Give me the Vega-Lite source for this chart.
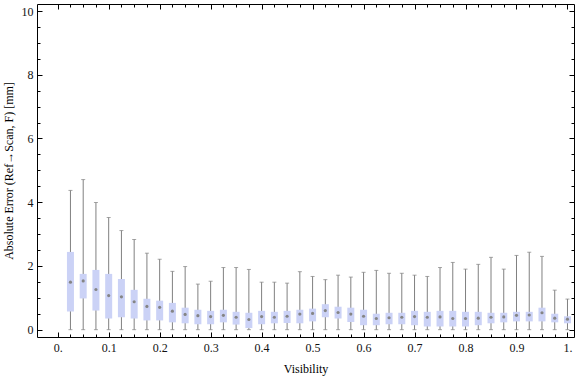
{
  "$schema": "https://vega.github.io/schema/vega-lite/v6.json",
  "width": 537,
  "height": 333,
  "autosize": {"type": "none"},
  "padding": {"left": 37, "top": 4, "right": 2, "bottom": 40},
  "background": "white",
  "config": {
    "view": {"stroke": "#000000", "strokeWidth": 1},
    "font": "Liberation Serif",
    "axis": {
      "domain": false,
      "grid": false,
      "tickColor": "#000000",
      "tickWidth": 1,
      "labelFont": "Liberation Serif",
      "labelFontSize": 12,
      "labelColor": "#111111",
      "titleFont": "Liberation Serif",
      "titleFontSize": 12,
      "titleFontWeight": "normal",
      "titleColor": "#000000"
    }
  },
  "data": {
    "values": [
      {"v": 0.025, "lo": 0, "q1": 0.57, "med": 1.49, "q3": 2.44, "hi": 4.37},
      {"v": 0.05, "lo": 0, "q1": 0.98, "med": 1.53, "q3": 1.75, "hi": 4.71},
      {"v": 0.075, "lo": 0, "q1": 0.6, "med": 1.26, "q3": 1.875, "hi": 3.99},
      {"v": 0.1, "lo": 0, "q1": 0.35, "med": 1.07, "q3": 1.75, "hi": 3.52},
      {"v": 0.125, "lo": 0, "q1": 0.39, "med": 1.03, "q3": 1.59, "hi": 3.11},
      {"v": 0.15, "lo": 0, "q1": 0.35, "med": 0.875, "q3": 1.25, "hi": 2.83},
      {"v": 0.175, "lo": 0, "q1": 0.29, "med": 0.73, "q3": 0.97, "hi": 2.4},
      {"v": 0.2, "lo": 0, "q1": 0.29, "med": 0.7, "q3": 0.91, "hi": 2.21},
      {"v": 0.225, "lo": 0, "q1": 0.23, "med": 0.58, "q3": 0.84, "hi": 1.83},
      {"v": 0.25, "lo": 0, "q1": 0.2, "med": 0.48, "q3": 0.69, "hi": 1.98},
      {"v": 0.275, "lo": 0, "q1": 0.17, "med": 0.44, "q3": 0.625, "hi": 1.43},
      {"v": 0.3, "lo": 0, "q1": 0.17, "med": 0.41, "q3": 0.59, "hi": 1.52},
      {"v": 0.325, "lo": 0, "q1": 0.23, "med": 0.45, "q3": 0.625, "hi": 1.95},
      {"v": 0.35, "lo": 0, "q1": 0.16, "med": 0.39, "q3": 0.56, "hi": 1.95},
      {"v": 0.375, "lo": 0, "q1": 0.05, "med": 0.32, "q3": 0.53, "hi": 1.89},
      {"v": 0.4, "lo": 0, "q1": 0.17, "med": 0.41, "q3": 0.59, "hi": 1.49},
      {"v": 0.425, "lo": 0, "q1": 0.2, "med": 0.39, "q3": 0.56, "hi": 1.49},
      {"v": 0.45, "lo": 0, "q1": 0.21, "med": 0.42, "q3": 0.59, "hi": 1.46},
      {"v": 0.475, "lo": 0, "q1": 0.2, "med": 0.49, "q3": 0.625, "hi": 1.82},
      {"v": 0.5, "lo": 0, "q1": 0.26, "med": 0.51, "q3": 0.66, "hi": 1.67},
      {"v": 0.525, "lo": 0, "q1": 0.39, "med": 0.6, "q3": 0.8, "hi": 1.57},
      {"v": 0.55, "lo": 0, "q1": 0.35, "med": 0.54, "q3": 0.72, "hi": 1.71},
      {"v": 0.575, "lo": 0, "q1": 0.24, "med": 0.49, "q3": 0.69, "hi": 1.65},
      {"v": 0.6, "lo": 0, "q1": 0.14, "med": 0.42, "q3": 0.625, "hi": 1.8},
      {"v": 0.625, "lo": 0, "q1": 0.14, "med": 0.35, "q3": 0.5, "hi": 1.86},
      {"v": 0.65, "lo": 0, "q1": 0.17, "med": 0.375, "q3": 0.53, "hi": 1.77},
      {"v": 0.675, "lo": 0, "q1": 0.17, "med": 0.39, "q3": 0.53, "hi": 1.77},
      {"v": 0.7, "lo": 0, "q1": 0.14, "med": 0.41, "q3": 0.59, "hi": 1.71},
      {"v": 0.725, "lo": 0, "q1": 0.1, "med": 0.39, "q3": 0.56, "hi": 1.67},
      {"v": 0.75, "lo": 0, "q1": 0.1, "med": 0.4, "q3": 0.59, "hi": 1.95},
      {"v": 0.775, "lo": 0, "q1": 0.1, "med": 0.35, "q3": 0.59, "hi": 2.11},
      {"v": 0.8, "lo": 0, "q1": 0.1, "med": 0.35, "q3": 0.56, "hi": 1.9},
      {"v": 0.825, "lo": 0, "q1": 0.14, "med": 0.36, "q3": 0.56, "hi": 2.05},
      {"v": 0.85, "lo": 0, "q1": 0.2, "med": 0.39, "q3": 0.53, "hi": 2.27},
      {"v": 0.875, "lo": 0, "q1": 0.23, "med": 0.4, "q3": 0.53, "hi": 1.9},
      {"v": 0.9, "lo": 0, "q1": 0.26, "med": 0.45, "q3": 0.56, "hi": 2.33},
      {"v": 0.925, "lo": 0, "q1": 0.26, "med": 0.46, "q3": 0.56, "hi": 2.43},
      {"v": 0.95, "lo": 0, "q1": 0.26, "med": 0.53, "q3": 0.69, "hi": 2.3},
      {"v": 0.975, "lo": 0, "q1": 0.23, "med": 0.36, "q3": 0.5, "hi": 1.24},
      {"v": 1.0, "lo": 0, "q1": 0.2, "med": 0.33, "q3": 0.42, "hi": 0.96}
    ]
  },
  "layer": [
    {
      "mark": {"type": "rule", "color": "#808080", "strokeWidth": 1},
      "encoding": {
        "x": {"field": "v", "type": "quantitative",
          "scale": {"domain": [-0.0308, 1.003], "nice": false, "zero": false},
          "axis": {"orient": "bottom", "values": [0, 0.1, 0.2, 0.3, 0.4, 0.5, 0.6, 0.7, 0.8, 0.9, 1.0],
            "tickSize": -5, "labelPadding": 10,
            "labelExpr": "datum.value == 0 ? '0.' : (datum.value == 1 ? '1.' : format(datum.value, '.1f'))",
            "title": "Visibility", "titlePadding": 10}},
        "y": {"field": "lo", "type": "quantitative",
          "scale": {"domain": [-0.23, 10.22], "nice": false, "zero": false},
          "axis": {"orient": "left", "values": [0, 2, 4, 6, 8, 10], "tickSize": -5, "labelPadding": 9,
            "title": "Absolute Error (Ref→Scan, F) [mm]", "titlePadding": 6}},
        "y2": {"field": "hi"}
      }
    },
    {
      "mark": {"type": "tick", "orient": "horizontal", "color": "#808080", "size": 4, "thickness": 1},
      "encoding": {
        "x": {"field": "v", "type": "quantitative",
          "axis": {"orient": "bottom", "values": [0, 0.025, 0.05, 0.075, 0.1, 0.125, 0.15, 0.175, 0.2, 0.225, 0.25, 0.275, 0.3, 0.325, 0.35, 0.375, 0.4, 0.425, 0.45, 0.475, 0.5, 0.525, 0.55, 0.575, 0.6, 0.625, 0.65, 0.675, 0.7, 0.725, 0.75, 0.775, 0.8, 0.825, 0.85, 0.875, 0.9, 0.925, 0.95, 0.975, 1.0],
            "tickSize": -3, "labels": false, "title": null}},
        "y": {"field": "hi", "type": "quantitative",
          "axis": {"orient": "left", "values": [0, 0.5, 1, 1.5, 2, 2.5, 3, 3.5, 4, 4.5, 5, 5.5, 6, 6.5, 7, 7.5, 8, 8.5, 9, 9.5, 10],
            "tickSize": -3, "labels": false, "title": null}}
      }
    },
    {
      "mark": {"type": "tick", "orient": "horizontal", "color": "#808080", "size": 4, "thickness": 1},
      "encoding": {
        "x": {"field": "v", "type": "quantitative", "axis": null},
        "y": {"field": "lo", "type": "quantitative", "axis": null}
      }
    },
    {
      "mark": {"type": "bar", "color": "#cbd2f6", "size": 7},
      "encoding": {
        "x": {"field": "v", "type": "quantitative",
          "axis": {"orient": "top", "values": [0, 0.1, 0.2, 0.3, 0.4, 0.5, 0.6, 0.7, 0.8, 0.9, 1.0],
            "tickSize": -5, "labels": false, "title": null}},
        "y": {"field": "q1", "type": "quantitative",
          "axis": {"orient": "right", "values": [0, 2, 4, 6, 8, 10], "tickSize": -5, "labels": false, "title": null}},
        "y2": {"field": "q3"}
      }
    },
    {
      "mark": {"type": "point", "filled": true, "color": "#858585", "size": 10, "opacity": 1},
      "encoding": {
        "x": {"field": "v", "type": "quantitative",
          "axis": {"orient": "top", "values": [0, 0.025, 0.05, 0.075, 0.1, 0.125, 0.15, 0.175, 0.2, 0.225, 0.25, 0.275, 0.3, 0.325, 0.35, 0.375, 0.4, 0.425, 0.45, 0.475, 0.5, 0.525, 0.55, 0.575, 0.6, 0.625, 0.65, 0.675, 0.7, 0.725, 0.75, 0.775, 0.8, 0.825, 0.85, 0.875, 0.9, 0.925, 0.95, 0.975, 1.0],
            "tickSize": -3, "labels": false, "title": null}},
        "y": {"field": "med", "type": "quantitative",
          "axis": {"orient": "right", "values": [0, 0.5, 1, 1.5, 2, 2.5, 3, 3.5, 4, 4.5, 5, 5.5, 6, 6.5, 7, 7.5, 8, 8.5, 9, 9.5, 10],
            "tickSize": -3, "labels": false, "title": null}}
      }
    }
  ],
  "resolve": {"axis": {"x": "independent", "y": "independent"}}
}
